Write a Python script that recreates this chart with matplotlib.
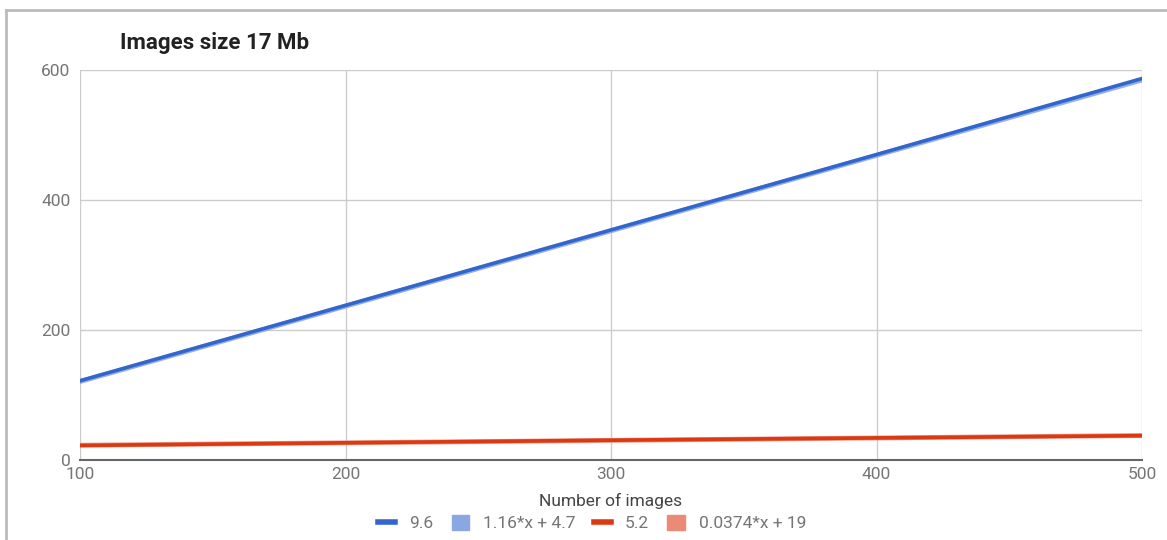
import matplotlib
matplotlib.use('Agg')
import matplotlib.pyplot as plt
from matplotlib.lines import Line2D
from matplotlib.patches import Patch

plt.rcParams['font.family'] = ['Roboto', 'DejaVu Sans']

# data
n_images = [100, 200, 300, 400, 500]
blue_vals = [122, 238, 354, 470, 587]
red_vals = [22.5, 26.5, 30.5, 34, 37.5]
blue_label = '9.6'
red_label = '5.2'
# trendlines as shown in the legend
blue_slope, blue_icpt = 1.16, 4.7
red_slope, red_icpt = 0.0374, 19
blue_trend_label = '1.16*x + 4.7'
red_trend_label = '0.0374*x + 19'

y_ticks = [0, 200, 400, 600]
x_ticks = [100, 200, 300, 400, 500]

blue = '#3366cc'
blue_tr = '#8aa7e2'
red = '#dc3912'
red_tr = '#eb8a76'

fig = plt.figure(figsize=(11.67, 5.4), dpi=100)
ax = fig.add_axes([0.0686, 0.1481, 0.910, 0.7222])

blue_trend = [blue_slope * x + blue_icpt for x in n_images]
red_trend = [red_slope * x + red_icpt for x in n_images]

ax.plot(n_images, blue_trend, color=blue_tr, lw=3.5, alpha=0.9, zorder=2)
ax.plot(n_images, blue_vals, color=blue, lw=2.6, zorder=3)
ax.plot(n_images, red_trend, color=red_tr, lw=3.5, alpha=0.9, zorder=2)
ax.plot(n_images, red_vals, color=red, lw=2.6, zorder=3)

ax.set_xlim(100, 500)
ax.set_ylim(0, 600)
ax.set_xticks(x_ticks)
ax.set_yticks(y_ticks)
ax.grid(True, color='#cccccc', lw=1)
ax.set_axisbelow(True)
for s in ['top', 'right', 'left']:
    ax.spines[s].set_visible(False)
ax.spines['bottom'].set_color('#666666')
ax.spines['bottom'].set_linewidth(1.5)
ax.tick_params(length=0, colors='#757575', labelsize=12.5)
ax.tick_params(axis='x', pad=5)
ax.tick_params(axis='y', pad=7)
ax.set_xlabel('Number of images', fontsize=12.5, color='#444444', labelpad=8)

fig.text(120 / 1167, 1 - 43 / 540, 'Images size 17 Mb', fontsize=16,
         fontweight='bold', color='#222222', va='center', ha='left')

handles = [Line2D([], [], color=blue, lw=4),
           Patch(color=blue_tr),
           Line2D([], [], color=red, lw=4),
           Patch(color=red_tr)]
labels = [blue_label, blue_trend_label, red_label, red_trend_label]
leg = fig.legend(handles, labels, loc='center', bbox_to_anchor=(592 / 1167, 1 - 523 / 540),
                 ncol=4, frameon=False, fontsize=12.5, handlelength=1.0, handleheight=1.0,
                 columnspacing=1.05, handletextpad=0.8)
for t in leg.get_texts():
    t.set_color('#757575')

# screenshot frame
fig.add_artist(Line2D([6 / 1167, 6 / 1167], [0, 1 - 10 / 540], color='#bbbbbb', lw=2))
fig.add_artist(Line2D([6 / 1167, 1], [1 - 10 / 540, 1 - 10 / 540], color='#bbbbbb', lw=2))

fig.savefig('out.png', dpi=100)
